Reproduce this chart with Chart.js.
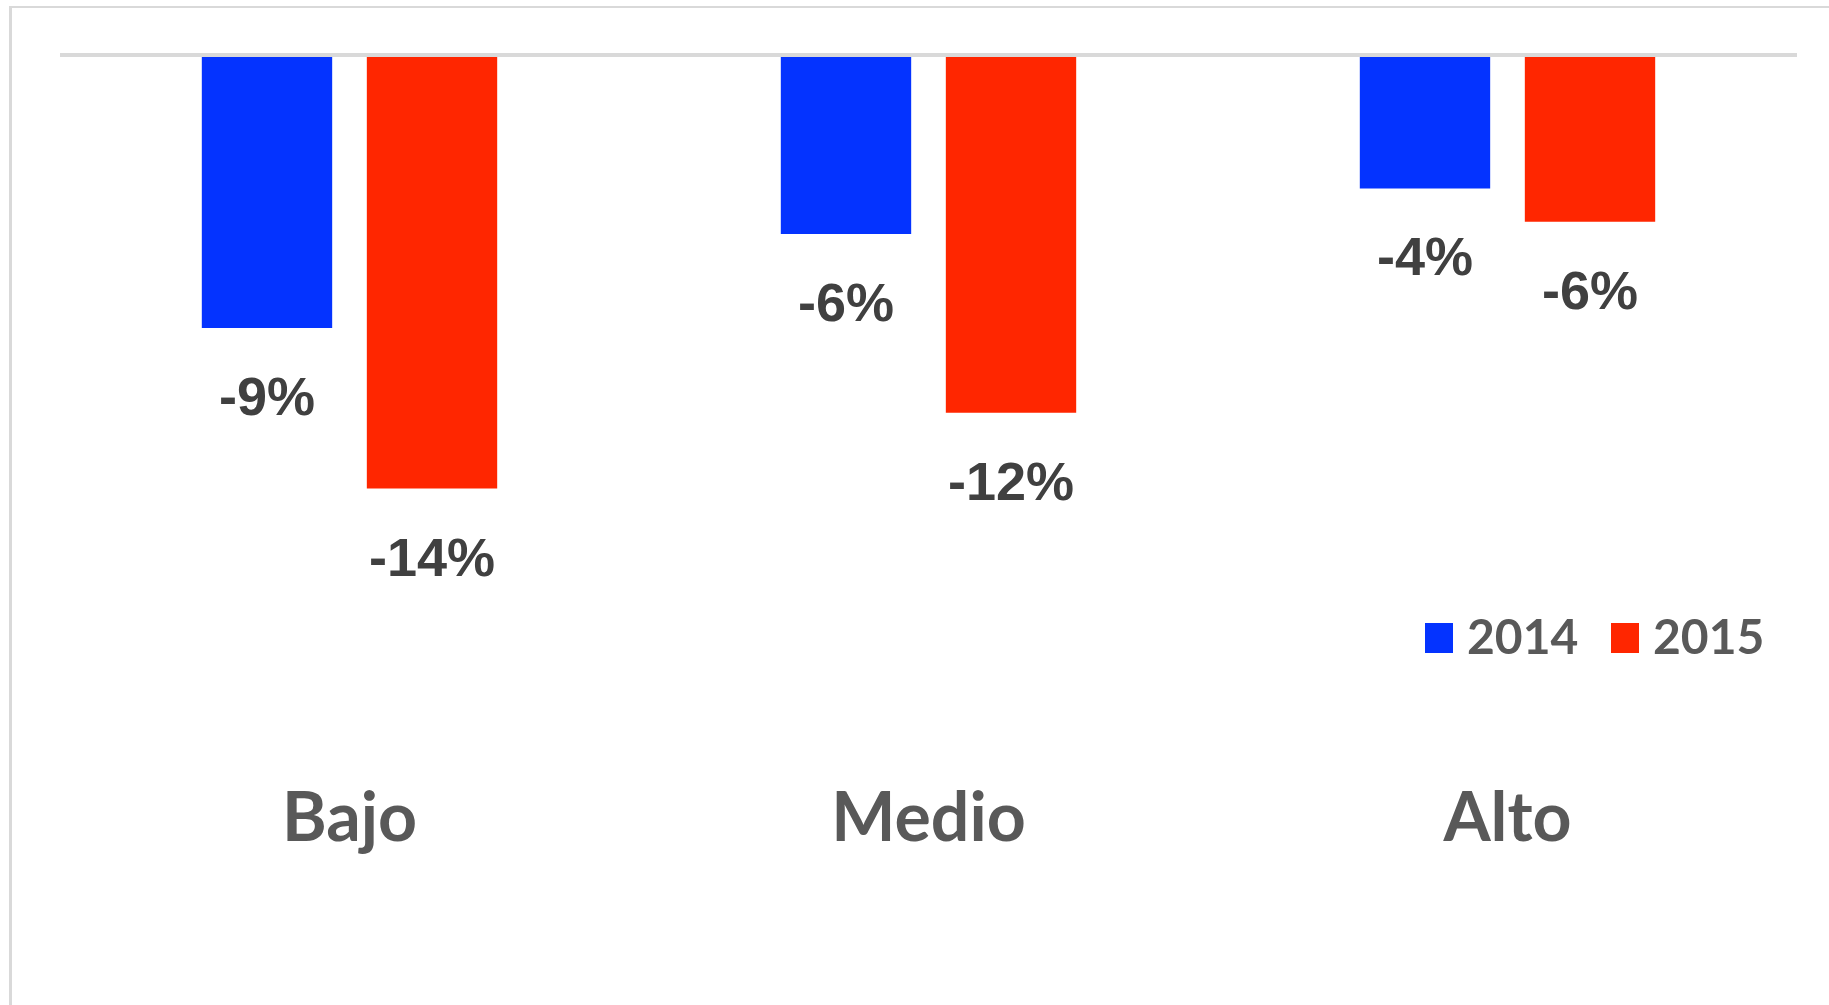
<!DOCTYPE html>
<html lang="es">
<head>
    <meta charset="UTF-8">
    <title>Variación por nivel 2014 - 2015</title>
    <script src="https://cdn.jsdelivr.net/npm/chart.js"></script>
    <style>
        html, body { margin: 0; padding: 0; background: #fff; }
        body { width: 1829px; height: 1005px; position: relative; overflow: hidden; }
        /* light frame, only its left and top edges are visible */
        .frame { position: absolute; left: 9px; top: 6px; width: 1900px; height: 1100px;
                 border-left: 3px solid #d9d9d9; border-top: 2px solid #d9d9d9; }
        #wrap { position: absolute; left: 0; top: 0; }
    </style>
</head>
<body>
    <div class="frame"></div>
    <div id="wrap"><canvas id="chart" width="1829" height="1005"></canvas></div>

    <script>
        // Data
        const categories = ['Bajo', 'Medio', 'Alto'];
        const seriesNames = ['2014', '2015'];
        const values2014 = [-9.0, -5.9, -4.4];
        const values2015 = [-14.3, -11.8, -5.5];
        const seriesColors = ['#0433FF', '#FF2600'];

        function pct(v) {
            return (v < 0 ? '-' : '') + Math.round(Math.abs(v)) + '%';
        }

        // labels under each bar end
        const barLabels = {
            id: 'barLabels',
            afterDatasetsDraw(chart) {
                const ctx = chart.ctx;
                ctx.save();
                ctx.font = 'bold 54px "Liberation Sans", Arial, sans-serif';
                ctx.fillStyle = '#404040';
                ctx.textAlign = 'center';
                ctx.textBaseline = 'middle';
                chart.data.datasets.forEach((ds, i) => {
                    chart.getDatasetMeta(i).data.forEach((bar, j) => {
                        ctx.fillText(pct(ds.data[j]), bar.x, bar.y + 72);
                    });
                });
                ctx.restore();
            }
        };

        // legend sitting inside the plot, lower right
        const innerLegend = {
            id: 'innerLegend',
            afterDraw(chart) {
                const ctx = chart.ctx;
                const pos = [1425, 1611];
                ctx.save();
                ctx.font = 'bold 48px Lato, sans-serif';
                ctx.textBaseline = 'middle';
                ctx.textAlign = 'left';
                seriesNames.forEach((name, i) => {
                    ctx.fillStyle = seriesColors[i];
                    ctx.fillRect(pos[i], 623, 28, 30);
                    ctx.fillStyle = '#595959';
                    ctx.fillText(name, pos[i] + 42, 639);
                });
                ctx.restore();
            }
        };

        new Chart(document.getElementById('chart'), {
            type: 'bar',
            data: {
                labels: categories,
                datasets: [
                    { label: seriesNames[0], data: values2014, backgroundColor: seriesColors[0] },
                    { label: seriesNames[1], data: values2015, backgroundColor: seriesColors[1] }
                ]
            },
            options: {
                responsive: false,
                animation: false,
                devicePixelRatio: 1,
                categoryPercentage: 0.57,
                barPercentage: 0.79,
                layout: { padding: { left: 60, right: 32, top: 55, bottom: 124 } },
                plugins: {
                    legend: { display: false },
                    tooltip: { enabled: false }
                },
                scales: {
                    x: {
                        grid: { display: false },
                        border: { display: false },
                        ticks: {
                            color: '#595959',
                            padding: 21,
                            font: { family: 'Lato', size: 68, weight: 'bold' }
                        }
                    },
                    y: {
                        min: -22.9,
                        max: 0,
                        border: { display: false },
                        ticks: { display: false, stepSize: 4 },
                        grid: {
                            drawTicks: false,
                            lineWidth: 4,
                            color: (c) => c.tick && c.tick.value === 0 ? '#d9d9d9' : 'rgba(0,0,0,0)'
                        }
                    }
                }
            },
            plugins: [barLabels, innerLegend]
        });
    </script>
</body>
</html>
